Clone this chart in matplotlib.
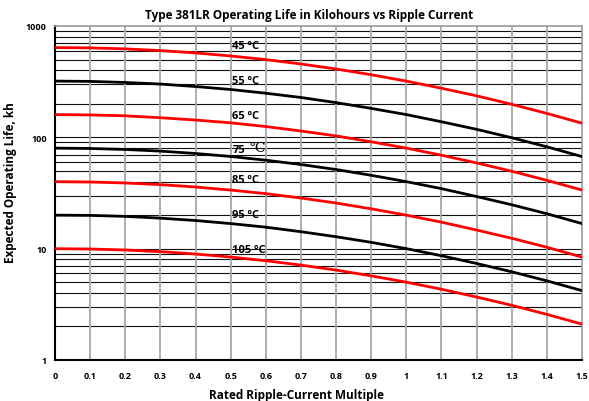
import matplotlib
matplotlib.use("Agg")
import matplotlib.pyplot as plt
from matplotlib.ticker import FixedLocator, NullFormatter

x = [0, 0.1, 0.2, 0.3, 0.4, 0.5, 0.6, 0.7, 0.8, 0.9, 1.0, 1.1, 1.2, 1.3, 1.4, 1.5]
life_45 = [640, 636, 623, 601, 573, 538, 499, 456, 411, 365, 320, 276, 236, 198, 164, 134]
life_55 = [320, 318, 311, 301, 286, 269, 249, 228, 205, 182, 160, 138, 118, 99.2, 82.2, 67.2]
life_65 = [160, 159, 156, 150, 143, 135, 125, 114, 103, 91.2, 80, 69.1, 58.9, 49.6, 41.1, 33.6]
life_75 = [80, 79.4, 77.8, 75.2, 71.6, 67.3, 62.3, 57.0, 51.4, 45.6, 40.0, 34.6, 29.4, 24.8, 20.6, 16.8]
life_85 = [40, 39.7, 38.9, 37.6, 35.8, 33.6, 31.2, 28.5, 25.7, 22.8, 20.0, 17.3, 14.7, 12.4, 10.3, 8.4]
life_95 = [20, 19.9, 19.5, 18.8, 17.9, 16.8, 15.6, 14.2, 12.8, 11.4, 10.0, 8.64, 7.36, 6.20, 5.14, 4.20]
life_105 = [10, 9.93, 9.73, 9.40, 8.95, 8.41, 7.79, 7.12, 6.42, 5.70, 5.00, 4.32, 3.68, 3.10, 2.57, 2.10]

series = [life_45, life_55, life_65, life_75, life_85, life_95, life_105]
labels = ["45 ºC", "55 ºC", "65 ºC", "75", "85 ºC", "95 ºC", "105 ºC"]
label_y = [665, 325, 157, 78, 42, 20.3, 9.8]
colors = ["#ff0000", "#000000"] * 4

x_ticks = [0, 0.1, 0.2, 0.3, 0.4, 0.5, 0.6, 0.7, 0.8, 0.9, 1.0, 1.1, 1.2, 1.3, 1.4, 1.5]
x_tick_labels = ["0", "0.1", "0.2", "0.3", "0.4", "0.5", "0.6", "0.7", "0.8", "0.9",
                 "1", "1.1", "1.2", "1.3", "1.4", "1.5"]
y_ticks = [1, 10, 100, 1000]
y_tick_labels = ["1", "10", "100", "1000"]

plt.rcParams['font.family'] = ['Open Sans', 'DejaVu Sans']

fig = plt.figure(figsize=(5.89, 4.02), dpi=100)
ax = fig.add_axes([55/589, 1-361/402, (582-55)/589, (361-27)/402])
ax.set_yscale('log')
ax.set_xlim(0, 1.5)
ax.set_ylim(1, 1000)

# grid
minor = [m * d for d in (1, 10, 100) for m in range(2, 10)]
for v in minor + [10, 100]:
    ax.axhline(v, color='#111111', lw=0.8, zorder=1)
for xv in x_ticks[1:-1]:
    ax.axvline(xv, color='#a8a8a8', lw=1.3, zorder=1)

for i, (s, lab, ly) in enumerate(zip(series, labels, label_y)):
    ax.plot(x, s, color=colors[i], lw=2.0, zorder=3)
    t = ax.text(0.505, ly, lab, fontsize=8, fontweight='bold', ha='left', va='center',
                color='black', zorder=4)
    if lab == "75":
        ax.text(0.553, ly * 1.04, "℃", fontsize=10, ha='left', va='center',
                color='black', zorder=4, family=['DejaVu Serif'])

ax.set_xticks(x_ticks)
ax.set_xticklabels(x_tick_labels, fontsize=6.5, fontweight='bold')
ax.yaxis.set_major_locator(FixedLocator(y_ticks))
ax.set_yticklabels(y_tick_labels, fontsize=6.5, fontweight='bold')
ax.yaxis.set_minor_formatter(NullFormatter())
ax.tick_params(axis='both', which='both', length=0)
ax.tick_params(axis='x', pad=8)
ax.tick_params(axis='y', pad=6)

for side in ('top', 'right'):
    ax.spines[side].set_color('#999999')
    ax.spines[side].set_linewidth(1.2)
for side in ('left', 'bottom'):
    ax.spines[side].set_color('black')
    ax.spines[side].set_linewidth(1.5)

ax.set_title("Type 381LR Operating Life in Kilohours vs Ripple Current",
             fontsize=8.5, fontweight='bold', pad=6, x=0.482)
ax.set_xlabel("Rated Ripple-Current Multiple", fontsize=8.5, fontweight='bold', labelpad=2)
ax.xaxis.set_label_coords(0.459, -0.085)
ax.set_ylabel("Expected Operating Life, kh", fontsize=8.5, fontweight='bold', labelpad=6)
ax.yaxis.set_label_coords(-0.072, 0.533)

fig.savefig("out.png", dpi=100)
